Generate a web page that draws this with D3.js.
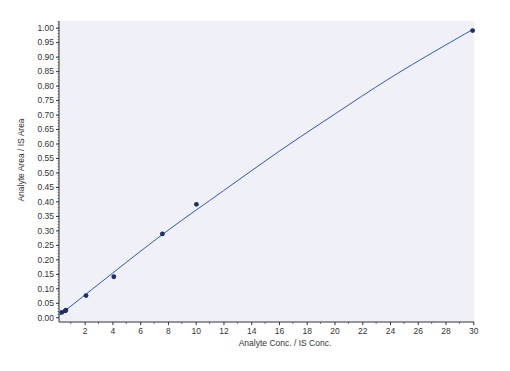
<!DOCTYPE html>
<html>
<head>
<meta charset="utf-8">
<script src="https://cdn.jsdelivr.net/npm/d3@7"></script>
<style>
  body { margin: 0; background: #fff; }
  svg { display: block; font-family: "Liberation Sans", Arial, sans-serif; }
</style>
</head>
<body>
<svg id="chart" width="510" height="371"></svg>
<script>
// measured points (conc ratio, area ratio)
var pointX = [0.35, 0.6, 0.65, 2.1, 4.1, 7.6, 10.05, 29.95];
var pointY = [0.017, 0.022, 0.025, 0.075, 0.140, 0.288, 0.390, 0.990];

// fitted calibration curve
var curveX = [0.15, 4, 8, 12, 16, 20, 24, 28, 30];
var curveY = [0.006, 0.152, 0.300, 0.437, 0.573, 0.701, 0.826, 0.940, 0.995];

var yTicks = d3.range(0, 21).map(function (i) { return i * 0.05; });
var xTicks = d3.range(2, 31, 2);

var svg = d3.select("#chart");
var plotLeft = 59, plotRight = 474, plotTop = 21, plotBottom = 322;

var x = d3.scaleLinear().domain([0, 30]).range([56.9, 473.3]);
var y = d3.scaleLinear().domain([0, 1]).range([317.3, 27.7]);

// plot background
svg.append("rect")
  .attr("x", plotLeft).attr("y", plotTop)
  .attr("width", plotRight - plotLeft).attr("height", plotBottom - plotTop)
  .attr("fill", "#f0f1f8");

// y axis
var yAxis = svg.append("g").attr("transform", "translate(" + plotLeft + ",0)");
yAxis.selectAll("line.minor")
  .data(d3.range(0, 103).map(function (i) { return i * 0.01; }).filter(function (v) { return y(v) >= plotTop && y(v) <= plotBottom; }))
  .join("line")
  .attr("x1", -1.5).attr("x2", 0)
  .attr("y1", function (d) { return y(d); }).attr("y2", function (d) { return y(d); })
  .attr("stroke", "#555").attr("stroke-width", 0.7);
yAxis.call(d3.axisLeft(y).tickValues(yTicks).tickFormat(d3.format(".2f")).tickSize(3).tickPadding(2))
  .call(function (g) { g.select(".domain").remove(); });
yAxis.selectAll(".tick line").attr("stroke", "#333");
yAxis.selectAll(".tick text").attr("font-size", 8.5).attr("fill", "#333")
  .attr("font-family", "Liberation Sans, Arial, sans-serif");
yAxis.append("line").attr("x1", 0).attr("x2", 0).attr("y1", plotTop).attr("y2", plotBottom)
  .attr("stroke", "#333").attr("stroke-width", 1);

// x axis
var xAxis = svg.append("g").attr("transform", "translate(0," + plotBottom + ")");
xAxis.selectAll("line.minor")
  .data(d3.range(1, 31, 2))
  .join("line")
  .attr("x1", function (d) { return x(d); }).attr("x2", function (d) { return x(d); })
  .attr("y1", 0).attr("y2", 2)
  .attr("stroke", "#555").attr("stroke-width", 0.8);
xAxis.call(d3.axisBottom(x).tickValues(xTicks).tickFormat(d3.format("d")).tickSize(3).tickPadding(3))
  .call(function (g) { g.select(".domain").remove(); });
xAxis.selectAll(".tick line").attr("stroke", "#333");
xAxis.selectAll(".tick text").attr("font-size", 8.5).attr("fill", "#333")
  .attr("font-family", "Liberation Sans, Arial, sans-serif");
xAxis.append("line").attr("x1", plotLeft).attr("x2", plotRight).attr("y1", 0).attr("y2", 0)
  .attr("stroke", "#333").attr("stroke-width", 1);

// titles
svg.append("text")
  .attr("x", 285).attr("y", 346)
  .attr("text-anchor", "middle").attr("font-size", 8.5).attr("fill", "#333")
  .text("Analyte Conc. / IS Conc.");
svg.append("text")
  .attr("transform", "translate(24,160) rotate(-90)")
  .attr("text-anchor", "middle").attr("font-size", 8.5).attr("fill", "#333")
  .text("Analyte Area / IS Area");

// fit curve
var curveData = curveX.map(function (v, i) { return [v, curveY[i]]; });
svg.append("path")
  .datum(curveData)
  .attr("fill", "none")
  .attr("stroke", "#3557ad")
  .attr("stroke-width", 1)
  .attr("d", d3.line().x(function (d) { return x(d[0]); }).y(function (d) { return y(d[1]); }).curve(d3.curveNatural));

// points
svg.selectAll("circle.pt")
  .data(pointX.map(function (v, i) { return [v, pointY[i]]; }))
  .join("circle")
  .attr("class", "pt")
  .attr("cx", function (d) { return x(d[0]); })
  .attr("cy", function (d) { return y(d[1]); })
  .attr("r", 2.4)
  .attr("fill", "#1e2f63");
</script>
</body>
</html>
